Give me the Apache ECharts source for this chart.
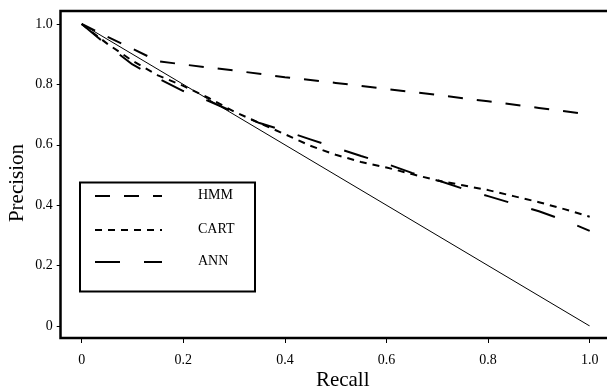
<!DOCTYPE html>
<html>
<head>
<meta charset="utf-8">
<script src="https://cdn.jsdelivr.net/npm/echarts@6/dist/echarts.min.js"></script>
<style>html,body{margin:0;padding:0;background:#fff}#c{width:607px;height:388px}</style>
</head>
<body>
<div id="c"></div>
<script>
const tickLabels = ['0', '0.2', '0.4', '0.6', '0.8', '1.0'];
const seriesNames = ['HMM', 'CART', 'ANN'];
const hmmRecall = [0, 0.05, 0.1, 0.15, 0.2, 0.3, 0.4, 0.5, 0.6, 0.7, 0.8, 0.9, 1.0];
const hmmPrecision = [1, 0.958, 0.918, 0.877, 0.866, 0.846, 0.824, 0.805, 0.785, 0.765, 0.744, 0.722, 0.70];
const curveRecall = [0, 0.05, 0.1, 0.15, 0.2, 0.25, 0.3, 0.35, 0.4, 0.45, 0.5, 0.55, 0.6, 0.65, 0.7, 0.75, 0.8, 0.85, 0.9, 0.95, 1.0];
const cartPrecision = [1, 0.935, 0.878, 0.83, 0.795, 0.755, 0.71, 0.672, 0.635, 0.597, 0.567, 0.543, 0.525, 0.503, 0.482, 0.466, 0.45, 0.43, 0.41, 0.387, 0.362];
const annPrecision = [1, 0.93, 0.866, 0.82, 0.778, 0.745, 0.708, 0.672, 0.646, 0.618, 0.59, 0.563, 0.537, 0.507, 0.483, 0.455, 0.43, 0.405, 0.38, 0.35, 0.315];
const diagRecall = [0, 1];
const diagPrecision = [1, 0];

const dashes = { HMM: [15, 14], CART: [7, 6], ANN: [25, 24] };
const font = 'Liberation Serif';
const zip = (xs, ys) => xs.map((x, i) => [x, ys[i]]);

const chart = echarts.init(document.getElementById('c'), null, { renderer: 'canvas' });

const legendRows = [196, 230, 262];
const legendGraphics = [{
  type: 'rect', left: 77.5, top: 180,
  shape: { width: 175, height: 109 },
  style: { fill: 'none', stroke: '#000', lineWidth: 2 }
}];
seriesNames.forEach((n, i) => {
  legendGraphics.push({
    type: 'line', shape: { x1: 95, y1: legendRows[i], x2: 162, y2: legendRows[i] },
    style: { stroke: '#000', lineWidth: 2, lineDash: dashes[n] }
  });
  legendGraphics.push({
    type: 'text', left: 198, top: legendRows[i] - 8,
    style: { text: n, fill: '#000', font: '14px "' + font + '"' }
  });
});

const axisCommon = {
  min: 0, max: 1, interval: 0.2,
  axisLine: { show: false, onZero: false },
  axisTick: { show: true, inside: false, length: 4, lineStyle: { color: '#000', width: 1 } },
  axisLabel: { color: '#000', fontFamily: font, fontSize: 14, formatter: v => tickLabels[Math.round(v / 0.2)] },
  splitLine: { show: false },
  nameMoveOverlap: false
};

chart.setOption({
  animation: false,
  backgroundColor: '#fff',
  grid: [
    { left: 60.5, top: 11, width: 580, bottom: 50, show: true, borderColor: '#000', borderWidth: 2.5, backgroundColor: 'transparent', containLabel: false, outerBoundsMode: 'none' },
    { left: 81.7, right: 17.3, top: 24, bottom: 62, containLabel: false, outerBoundsMode: 'none' }
  ],
  xAxis: [Object.assign({}, axisCommon, {
    type: 'value', gridIndex: 1, position: 'bottom', offset: 13,
    axisLabel: Object.assign({}, axisCommon.axisLabel, { margin: 14 }),
    name: 'Recall', nameLocation: 'middle', nameGap: 31,
    nameTextStyle: { color: '#000', fontFamily: font, fontSize: 21, padding: [0, 0, 0, 14] }
  })],
  yAxis: [Object.assign({}, axisCommon, {
    type: 'value', gridIndex: 1, position: 'left', offset: 21,
    axisLabel: Object.assign({}, axisCommon.axisLabel, { margin: 8 }),
    name: 'Precision', nameLocation: 'middle', nameGap: 33,
    nameTextStyle: { color: '#000', fontFamily: font, fontSize: 21, padding: [0, 16, 0, 0] }
  })],
  series: [
    { name: 'diagonal', type: 'line', data: zip(diagRecall, diagPrecision), symbol: 'none', lineStyle: { color: '#000', width: 1, type: 'solid' } },
    { name: 'HMM', type: 'line', data: zip(hmmRecall, hmmPrecision), symbol: 'none', lineStyle: { color: '#000', width: 2, type: dashes.HMM } },
    { name: 'CART', type: 'line', data: zip(curveRecall, cartPrecision), symbol: 'none', lineStyle: { color: '#000', width: 2, type: dashes.CART } },
    { name: 'ANN', type: 'line', data: zip(curveRecall, annPrecision), symbol: 'none', lineStyle: { color: '#000', width: 2, type: dashes.ANN } }
  ],
  graphic: legendGraphics
});
</script>
</body>
</html>
